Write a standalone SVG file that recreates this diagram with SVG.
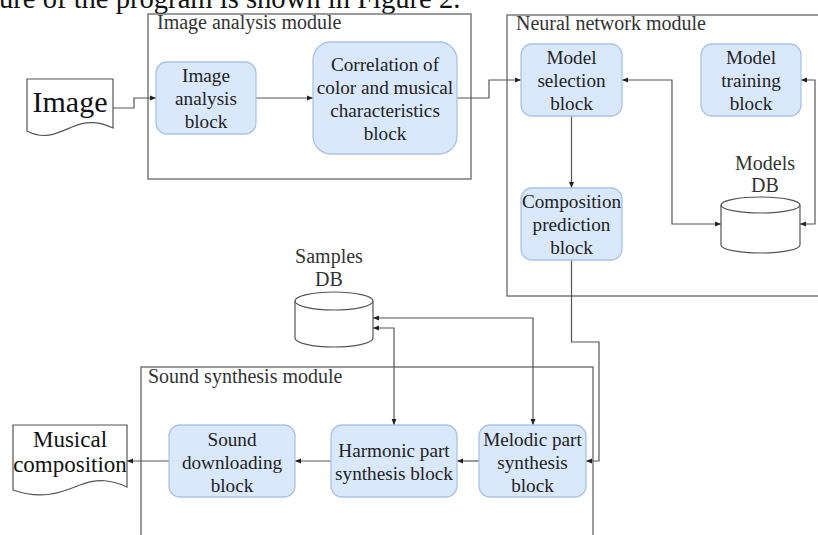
<svg xmlns="http://www.w3.org/2000/svg" width="818" height="535" viewBox="0 0 818 535" font-family="'Liberation Serif', 'Times New Roman', serif">
  <style>
    .caption { font-family: "Liberation Serif", serif; font-size: 28.6px; fill: #111; }
    .module { fill: none; stroke: #666; stroke-width: 1.3; }
    .mlabel { font-family: "Liberation Serif", serif; font-size: 20px; fill: #333; }
    .block rect { fill: #dae8fc; stroke: #a9c3e8; stroke-width: 1.3; }
    .btext { font-family: "Liberation Serif", serif; font-size: 19.2px; text-anchor: middle; fill: #222; }
    .db path, .doc path { fill: #fff; stroke: #555; stroke-width: 1.2; }
    .dtext { font-family: "Liberation Serif", serif; text-anchor: middle; fill: #111; }
    .dblabel { font-family: "Liberation Serif", serif; font-size: 20px; text-anchor: middle; fill: #333; }
    .edge { fill: none; stroke: #555; stroke-width: 1.2; }
  </style>
  <defs>
    <marker id="arrow" viewBox="0 0 6 6" refX="6" refY="3" markerWidth="6" markerHeight="6" markerUnits="userSpaceOnUse" orient="auto-start-reverse">
      <path d="M0,0.5 L6,3 L0,5.5 Z" fill="#222"/>
    </marker>
  </defs>

  <rect width="818" height="535" fill="#fff"/>

  <!-- running text above the figure -->
  <text class="caption" x="-1" y="8">ure of the program is shown in Figure 2.</text>

  <!-- module frames -->
  <g id="image-analysis-module">
    <rect class="module" x="148" y="14" width="323" height="165"/>
    <text class="mlabel" x="157" y="29">Image analysis module</text>
  </g>
  <g id="neural-network-module">
    <rect class="module" x="507" y="15" width="330" height="281"/>
    <text class="mlabel" x="516" y="30">Neural network module</text>
  </g>
  <g id="sound-synthesis-module">
    <rect class="module" x="141" y="367" width="452" height="200"/>
    <text class="mlabel" x="148" y="383">Sound synthesis module</text>
  </g>

  <!-- connectors -->
  <g id="connectors">
    <path class="edge" d="M113,108 H134 V98 H156" marker-end="url(#arrow)"/>
    <path class="edge" d="M256,98 H313" marker-end="url(#arrow)"/>
    <path class="edge" d="M457,98 H489 V80 H521" marker-end="url(#arrow)"/>
    <path class="edge" d="M571.5,116 V188" marker-end="url(#arrow)"/>
    <path class="edge" d="M721,224 H672 V80 H622" marker-start="url(#arrow)" marker-end="url(#arrow)"/>
    <path class="edge" d="M800,224 H815 V80 H801" marker-start="url(#arrow)" marker-end="url(#arrow)"/>
    <path class="edge" d="M571.5,260 V342 H599 V461 H586" marker-end="url(#arrow)"/>
    <path class="edge" d="M373,318 H533 V425" marker-start="url(#arrow)" marker-end="url(#arrow)"/>
    <path class="edge" d="M373,328 H394 V425" marker-start="url(#arrow)" marker-end="url(#arrow)"/>
    <path class="edge" d="M479,461 H457" marker-end="url(#arrow)"/>
    <path class="edge" d="M331,461 H295" marker-end="url(#arrow)"/>
    <path class="edge" d="M169,461 H127" marker-end="url(#arrow)"/>
  </g>

  <!-- documents -->
  <g id="image-doc" class="doc">
    <path d="M27,79 H113 V128 C100,122 88,120 72,127 C56,134 44,140 27,131 Z"/>
    <text class="dtext" x="70" y="112" font-size="30">Image</text>
  </g>
  <g id="musical-composition-doc" class="doc">
    <path d="M13,425 H127 V487 C112,480 98,478 80,485 C60,493 42,500 13,490 Z"/>
    <text class="dtext" x="70" y="447" font-size="23">Musical</text>
    <text class="dtext" x="70" y="472" font-size="23">composition</text>
  </g>

  <!-- blocks -->
  <g id="image-analysis-block" class="block">
    <rect x="156" y="62" width="100" height="72" rx="11"/>
    <text class="btext" x="206" y="82">Image</text>
    <text class="btext" x="206" y="105">analysis</text>
    <text class="btext" x="206" y="128">block</text>
  </g>
  <g id="correlation-block" class="block">
    <rect x="313" y="42" width="144" height="112" rx="18"/>
    <text class="btext" x="385" y="71">Correlation of</text>
    <text class="btext" x="385" y="94">color and musical</text>
    <text class="btext" x="385" y="117">characteristics</text>
    <text class="btext" x="385" y="140">block</text>
  </g>
  <g id="model-selection-block" class="block">
    <rect x="521" y="44" width="101" height="72" rx="11"/>
    <text class="btext" x="571.5" y="64">Model</text>
    <text class="btext" x="571.5" y="87">selection</text>
    <text class="btext" x="571.5" y="110">block</text>
  </g>
  <g id="model-training-block" class="block">
    <rect x="701" y="44" width="100" height="72" rx="11"/>
    <text class="btext" x="751" y="64">Model</text>
    <text class="btext" x="751" y="87">training</text>
    <text class="btext" x="751" y="110">block</text>
  </g>
  <g id="composition-prediction-block" class="block">
    <rect x="521" y="188" width="101" height="72" rx="11"/>
    <text class="btext" x="571.5" y="208">Composition</text>
    <text class="btext" x="571.5" y="231">prediction</text>
    <text class="btext" x="571.5" y="254">block</text>
  </g>
  <g id="sound-downloading-block" class="block">
    <rect x="169" y="425" width="126" height="72" rx="11"/>
    <text class="btext" x="232" y="446">Sound</text>
    <text class="btext" x="232" y="469">downloading</text>
    <text class="btext" x="232" y="492">block</text>
  </g>
  <g id="harmonic-block" class="block">
    <rect x="331" y="425" width="126" height="72" rx="11"/>
    <text class="btext" x="394" y="457">Harmonic part</text>
    <text class="btext" x="394" y="480">synthesis block</text>
  </g>
  <g id="melodic-block" class="block">
    <rect x="479" y="425" width="107" height="72" rx="11"/>
    <text class="btext" x="532.5" y="446">Melodic part</text>
    <text class="btext" x="532.5" y="469">synthesis</text>
    <text class="btext" x="532.5" y="492">block</text>
  </g>

  <!-- databases -->
  <g id="models-db" class="db">
    <path d="M721,205 A39.5,8 0 0 1 800,205 V245 A39.5,8 0 0 1 721,245 Z"/>
    <path d="M721,205 A39.5,8 0 0 0 800,205"/>
    <text class="dblabel" x="765" y="170">Models</text>
    <text class="dblabel" x="765" y="192">DB</text>
  </g>
  <g id="samples-db" class="db">
    <path d="M295,301 A39,9 0 0 1 373,301 V338 A39,9 0 0 1 295,338 Z"/>
    <path d="M295,301 A39,9 0 0 0 373,301"/>
    <text class="dblabel" x="329" y="263">Samples</text>
    <text class="dblabel" x="329" y="286">DB</text>
  </g>
</svg>
